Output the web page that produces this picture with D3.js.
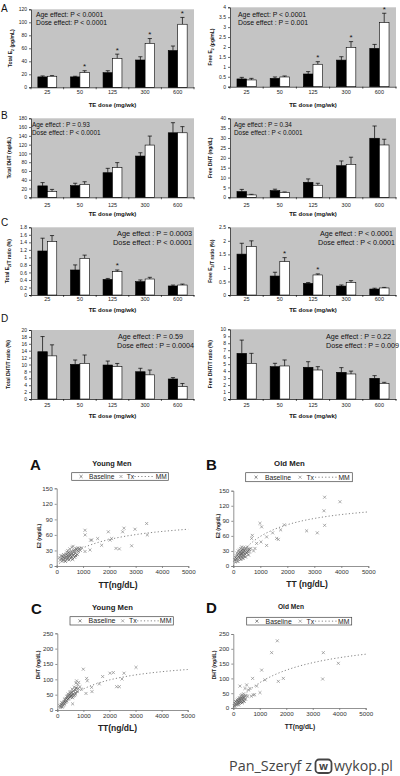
<!DOCTYPE html>
<html><head><meta charset="utf-8">
<script src="https://cdn.jsdelivr.net/npm/d3@7"></script>
<style>
html,body{margin:0;padding:0;background:#fff;}
svg{display:block;font-family:Arial,"Liberation Sans",sans-serif;}
</style></head><body>
<svg id="fig" width="400" height="776"></svg>
<script>
// ---------------- DATA ----------------
const doses = ["25","50","125","300","600"];

const totalE2Young = [16,16,22.5,42,56.5];
const totalE2YoungErr = [1.5,1,3,5,7];
const totalE2Old = [17,22.5,44.5,67.5,97];
const totalE2OldErr = [1,3,6.5,7.5,10.5];
const totalE2Star = [0,1,1,1,1];

const freeE2Young = [0.39,0.42,0.64,1.34,1.93];
const freeE2YoungErr = [0.08,0.07,0.12,0.17,0.2];
const freeE2Old = [0.34,0.49,1.13,1.98,3.23];
const freeE2OldErr = [0.08,0.05,0.13,0.29,0.47];
const freeE2Star = [0,0,1,1,1];

const totalDHTYoung = [26,26.5,56,94,147];
const totalDHTYoungErr = [7.5,5.5,10,7.5,23];
const totalDHTOld = [13,29.5,67.5,119,147];
const totalDHTOldErr = [5,6,11.5,20.5,14];
const totalDHTStar = [0,0,0,0,0];

const freeDHTYoung = [2.9,3.4,7.6,16,29.9];
const freeDHTYoungErr = [1.1,0.7,1.7,2.4,6.2];
const freeDHTOld = [1.2,2.4,6.1,16.7,26.5];
const freeDHTOldErr = [0.3,0.3,1,3.6,2.9];
const freeDHTStar = [0,0,0,0,0];

const totalE2TYoung = [1.17,0.665,0.415,0.355,0.24];
const totalE2TYoungErr = [0.34,0.135,0.025,0.045,0.025];
const totalE2TOld = [1.42,0.975,0.62,0.425,0.265];
const totalE2TOldErr = [0.16,0.085,0.045,0.045,0.025];
const totalE2TStar = [0,0,1,0,0];

const freeE2TYoung = [1.51,0.70,0.43,0.33,0.22];
const freeE2TYoungErr = [0.4,0.14,0.03,0.04,0.03];
const freeE2TOld = [1.79,1.23,0.74,0.46,0.26];
const freeE2TOldErr = [0.21,0.15,0.04,0.07,0.02];
const freeE2TStar = [0,1,1,0,0];

const totalDHTTYoung = [13.7,10.05,9.85,7.9,5.8];
const totalDHTTYoungErr = [4.4,1.25,1.15,1.0,0.4];
const totalDHTTOld = [12.5,10.3,9.4,7.0,3.6];
const totalDHTTOldErr = [3.2,2.45,0.9,1.4,0.9];
const totalDHTTStar = [0,0,0,0,0];

const freeDHTTYoung = [6.55,4.64,4.55,3.83,2.97];
const freeDHTTYoungErr = [1.9,0.48,0.8,0.67,0.38];
const freeDHTTOld = [5.12,4.74,4.16,3.59,2.25];
const freeDHTTOldErr = [1.43,0.86,0.48,0.41,0.14];
const freeDHTTStar = [0,0,0,0,0];

// scatter data [TT, hormone]
const youngE2Baseline = [[180,14],[210,19],[240,11],[260,17],[290,21],[310,15],[330,9],[350,18],[370,23],[390,13],[410,20],[430,16],[450,26],[470,12],[490,19],[510,22],[530,15],[550,28],[570,18],[590,24],[610,13],[630,21],[650,30],[680,17],[700,25],[720,20],[750,32],[780,22],[820,28],[870,34]];
const youngE2Tx = [[100,16],[130,11],[160,20],[200,9],[230,14],[260,22],[300,12],[340,17],[380,27],[420,30],[460,21],[500,33],[540,24],[580,36],[620,38],[660,27],[700,31],[740,34],[800,35],[860,33],[900,30],[950,35],[1076,28],[1080,60],[1076,69],[1266,31],[1291,50],[1330,50],[1557,53],[1709,40],[1962,66],[2025,50],[2089,53],[2253,34],[2380,33],[2506,66],[2557,73],[2848,39],[2975,71],[3418,82],[3443,60]];
const oldE2Baseline = [[60,12],[90,17],[120,14],[150,22],[170,9],[190,19],[210,25],[230,16],[250,28],[260,21],[280,13],[290,24],[300,30],[310,18],[320,26],[340,22],[350,33],[360,15],[380,27],[390,20],[410,31],[430,24],[450,18],[470,35],[500,26],[530,29],[560,22],[600,33]];
const oldE2Tx = [[80,8],[110,20],[140,26],[180,30],[200,13],[220,32],[240,20],[270,35],[290,27],[310,38],[330,19],[360,30],[380,37],[400,23],[420,28],[450,35],[480,30],[520,38],[560,33],[600,28],[650,35],[679,55],[704,61],[750,30],[802,35],[864,45],[988,85],[1025,48],[1049,78],[1235,41],[1235,58],[1457,66],[1605,55],[1667,53],[1753,72],[1889,82],[2716,70],[3111,66],[3358,110],[3383,137],[3383,81],[3951,128]];
const youngDHTBaseline = [[120,12],[150,18],[180,10],[200,22],[230,16],[260,28],[280,20],[300,33],[320,25],[340,38],[360,30],[380,42],[400,35],[420,46],[440,38],[460,50],[480,42],[500,55],[520,45],[540,48],[560,58],[580,40],[600,52],[620,62],[650,47],[680,66],[700,55],[720,72],[760,60],[800,70]];
const youngDHTTx = [[90,15],[130,8],[170,25],[210,12],[250,20],[290,36],[330,28],[370,45],[410,52],[450,45],[490,60],[530,53],[570,68],[588,20],[610,45],[650,75],[690,50],[716,88],[740,95],[780,82],[820,90],[870,76],[930,68],[997,133],[1100,54],[1125,103],[1151,95],[1317,74],[1330,60],[1611,85],[1739,109],[2020,120],[2148,122],[2276,76],[2378,76],[2481,101],[2558,120],[3018,139]];
const oldDHTBaseline = [[40,8],[70,15],[90,22],[110,11],[130,18],[150,26],[170,13],[190,20],[210,28],[220,16],[240,24],[250,32],[270,19],[280,27],[300,35],[310,22],[320,30],[340,18],[350,38],[370,26],[390,33],[410,22],[430,40],[460,30]];
const oldDHTTx = [[60,5],[100,12],[140,20],[180,30],[200,10],[230,35],[252,74],[260,22],[290,42],[310,30],[330,45],[350,25],[370,40],[390,48],[420,35],[441,66],[480,42],[504,78],[540,40],[567,61],[630,66],[680,40],[730,100],[756,44],[800,45],[882,74],[1008,52],[1071,128],[1196,95],[1448,187],[1662,227],[1700,90],[1889,100],[3375,98],[3400,187],[3967,151]];

// MM curves
const mmTT = [0,250,500,750,1000,1500,2000,2500,3000,3500,4000,4500,5000];
const mmYoungE2 = [0,12.1,21.4,28.9,35.0,44.4,51.2,56.5,60.6,64.0,66.7,69.0,71.0];
const mmOldE2 = [0,21.8,37.6,49.5,58.9,72.6,82.2,89.3,94.7,99.0,102.5,105.3,107.8];
const mmYoungDHT = [0,24.5,42.8,57.1,68.5,85.7,98.0,107.2,114.4,120.1,124.8,128.7,132.0];
const mmOldDHT = [0,28.7,51.5,70.1,85.6,109.8,127.9,141.9,153.1,162.3,169.9,176.3,181.8];

const ttTicks = [0,1000,2000,3000,4000,5000];

// ---------------- DRAW ----------------
const svg = d3.select("#fig");
const GRAY = "#c4c4c4";
const FONT = 'Arial,"Liberation Sans",sans-serif';

function subText(sel, parts, fs){
  parts.forEach(p=>{
    if(p.sub){
      sel.append("tspan").attr("font-size",fs*0.72).attr("dy",fs*0.3).text(p.t);
      sel.append("tspan").attr("dy",-fs*0.3).text("");
    } else sel.append("tspan").text(p.t);
  });
}

function barPanel(o){
  const g = svg.append("g");
  const x = d3.scaleBand().domain(doses).range([o.x0,o.x1]);
  const y = d3.scaleLinear().domain([0,o.yMax]).range([o.yb,o.yt]);
  g.append("rect").attr("x",o.x0).attr("y",o.yt).attr("width",o.x1-o.x0)
    .attr("height",o.yb-o.yt).attr("fill",GRAY);
  const bw = x.bandwidth()*0.29;
  const cw = bw*0.22;
  doses.forEach((d,i)=>{
    const c = x(d)+x.bandwidth()/2;
    [[o.young,o.youngErr,"#000",c-bw],[o.old,o.oldErr,"#fff",c]].forEach(([v,e,fill,bx])=>{
      const top=y(v[i]), et=y(v[i]+e[i]), mx=bx+bw/2;
      g.append("line").attr("x1",mx).attr("x2",mx).attr("y1",top).attr("y2",et)
        .attr("stroke","#000").attr("stroke-width",0.7);
      g.append("line").attr("x1",mx-cw).attr("x2",mx+cw).attr("y1",et).attr("y2",et)
        .attr("stroke","#000").attr("stroke-width",0.7);
      g.append("rect").attr("x",bx).attr("y",top).attr("width",bw).attr("height",y(0)-top)
        .attr("fill",fill).attr("stroke","#000").attr("stroke-width",0.6);
    });
    if(o.stars[i]){
      g.append("text").attr("x",c+bw/2).attr("y",y(o.old[i]+o.oldErr[i])-1.5)
        .attr("text-anchor","middle").attr("font-size",8).attr("fill","#111").text("*");
    }
  });
  const ya = g.append("g").attr("transform",`translate(${o.x0},0)`)
    .call(d3.axisLeft(y).tickValues(d3.range(0,o.yMax+o.yStep/2,o.yStep))
      .tickSize(2).tickPadding(2).tickFormat(d=>+d.toFixed(2)));
  ya.attr("font-size",5).attr("font-family",FONT);
  ya.selectAll("path").attr("stroke","#000").attr("stroke-width",0.6);
  ya.selectAll("line").attr("stroke","#000").attr("stroke-width",0.6);
  ya.selectAll("text").attr("fill","#222");
  const xa = g.append("g").attr("transform",`translate(0,${o.yb})`)
    .call(d3.axisBottom(x).tickSize(0).tickPadding(o.xlabY-o.yb-2.2));
  xa.attr("font-size",5.5).attr("font-family",FONT);
  xa.select("path").attr("stroke","#000").attr("stroke-width",0.7);
  xa.selectAll("text").attr("fill","#222");
  doses.concat(["end"]).forEach((d,i)=>{
    const xx = i<doses.length ? x(d) : o.x1;
    g.append("line").attr("x1",xx).attr("x2",xx).attr("y1",o.yb).attr("y2",o.yb+2)
      .attr("stroke","#000").attr("stroke-width",0.6);
  });
  g.append("text").attr("x",(o.x0+o.x1)/2).attr("y",o.titleY).attr("text-anchor","middle")
    .attr("font-size",6).attr("font-weight","bold").attr("fill","#111").text("TE dose (mg/wk)");
  const yt = g.append("text").attr("transform",`translate(${o.labX},${(o.yt+o.yb)/2}) rotate(-90)`)
    .attr("text-anchor","middle").attr("font-size",5).attr("font-weight","bold").attr("fill","#111");
  subText(yt,o.ylab,5);
  o.ann.forEach((t,k)=>{
    g.append("text").attr("x",o.annX[k]).attr("y",o.annY+k*o.annDy).attr("font-size",o.annFs)
      .attr("fill","#111").text(t);
  });
  if(o.letter){
    g.append("text").attr("x",1).attr("y",o.letterY).attr("font-size",10).attr("fill","#111").text(o.letter);
  }
}

const L0=31, L1=194, R0=230, R1=396;
const barPanels = [
  {x0:L0,x1:L1,yt:9.3,yb:87.3,yMax:120,yStep:20,labX:12,ylab:[{t:"Total E"},{t:"2",sub:1},{t:" (pg/mL)"}],
   young:totalE2Young,youngErr:totalE2YoungErr,old:totalE2Old,oldErr:totalE2OldErr,stars:totalE2Star,
   ann:["Age effect: P < 0.0001","Dose effect: P < 0.0001"],annX:[36,36],annY:17,annDy:8,annFs:6.8,xlabY:92.7,titleY:107,letter:"A",letterY:12},
  {x0:R0,x1:R1,yt:7.3,yb:86.7,yMax:4,yStep:0.5,labX:212,ylab:[{t:"Free E"},{t:"2",sub:1},{t:" (pg/mL)"}],
   young:freeE2Young,youngErr:freeE2YoungErr,old:freeE2Old,oldErr:freeE2OldErr,stars:freeE2Star,
   ann:["Age effect: P < 0.0001","Dose effect : P = 0.001"],annX:[238,238],annY:17,annDy:8,annFs:6.9,xlabY:92.7,titleY:107},
  {x0:L0,x1:L1,yt:118.3,yb:197.3,yMax:180,yStep:20,labX:11,ylab:[{t:"Total DHT (ng/dL)"}],
   young:totalDHTYoung,youngErr:totalDHTYoungErr,old:totalDHTOld,oldErr:totalDHTOldErr,stars:totalDHTStar,
   ann:["Age effect : P = 0.93","Dose effect : P < 0.0001"],annX:[32,32],annY:126.5,annDy:8.7,annFs:6.4,xlabY:205,titleY:216,letter:"B",letterY:119},
  {x0:R0,x1:R1,yt:118.3,yb:197.3,yMax:40,yStep:5,labX:212,ylab:[{t:"Free DHT (ng/dL)"}],
   young:freeDHTYoung,youngErr:freeDHTYoungErr,old:freeDHTOld,oldErr:freeDHTOldErr,stars:freeDHTStar,
   ann:["Age effect : P = 0.34","Dose effect : P < 0.0001"],annX:[234,234],annY:126.5,annDy:8.7,annFs:6.4,xlabY:205,titleY:216},
  {x0:L0,x1:L1,yt:227.3,yb:295,yMax:1.8,yStep:0.2,labX:9,ylab:[{t:"Total E"},{t:"2",sub:1},{t:"/T ratio (%)"}],
   young:totalE2TYoung,youngErr:totalE2TYoungErr,old:totalE2TOld,oldErr:totalE2TOldErr,stars:totalE2TStar,
   ann:["Age effect : P = 0.0003","Dose effect : P < 0.0001"],annX:[117,113],annY:235.8,annDy:9,annFs:7.4,xlabY:299.3,titleY:312,letter:"C",letterY:226},
  {x0:R0,x1:R1,yt:227.3,yb:295,yMax:2.5,yStep:0.5,labX:212,ylab:[{t:"Free E"},{t:"2",sub:1},{t:"/T ratio (%)"}],
   young:freeE2TYoung,youngErr:freeE2TYoungErr,old:freeE2TOld,oldErr:freeE2TOldErr,stars:freeE2TStar,
   ann:["Age effect : P < 0.0001","Dose effect : P < 0.0001"],annX:[320,318],annY:235.8,annDy:9,annFs:7.2,xlabY:299.3,titleY:312},
  {x0:L0,x1:L1,yt:330,yb:399,yMax:20,yStep:2,labX:9.5,ylab:[{t:"Total DHT/T ratio (%)"}],
   young:totalDHTTYoung,youngErr:totalDHTTYoungErr,old:totalDHTTOld,oldErr:totalDHTTOldErr,stars:totalDHTTStar,
   ann:["Age effect : P = 0.59","Dose effect : P = 0.0004"],annX:[118,117],annY:339,annDy:9,annFs:7.2,xlabY:405,titleY:418,letter:"D",letterY:322},
  {x0:R0,x1:R1,yt:329.3,yb:399,yMax:10,yStep:1,labX:212,ylab:[{t:"Free DHT/T ratio (%)"}],
   young:freeDHTTYoung,youngErr:freeDHTTYoungErr,old:freeDHTTOld,oldErr:freeDHTTOldErr,stars:freeDHTTStar,
   ann:["Age effect : P = 0.22","Dose effect : P = 0.009"],annX:[326,326],annY:339,annDy:9,annFs:7.2,xlabY:405,titleY:418}
];
barPanels.forEach(barPanel);

// ---------- scatter panels ----------
const symX = d3.symbol().type(d3.symbolTimes).size(7);
const symT = d3.symbol().type(d3.symbolTimes).size(7);

function scatterPanel(o){
  const g = svg.append("g");
  const x = d3.scaleLinear().domain([0,5000]).range([o.x0,o.x1]);
  const y = d3.scaleLinear().domain([0,o.yMax]).range([o.yb,o.yt]);
  const ya = g.append("g").attr("transform",`translate(${o.x0},0)`)
    .call(d3.axisLeft(y).tickValues(d3.range(0,o.yMax+1,o.yStep)).tickSize(2).tickPadding(2).tickFormat(d3.format("d")));
  const xa = g.append("g").attr("transform",`translate(0,${o.yb})`)
    .call(d3.axisBottom(x).tickValues(ttTicks).tickSize(2).tickPadding(2).tickFormat(d3.format("d")));
  [ya,xa].forEach(a=>{
    a.attr("font-size",6.2).attr("font-family",FONT);
    a.selectAll("path,line").attr("stroke","#777").attr("stroke-width",0.8);
    a.selectAll("text").attr("fill","#333");
  });
  const line = d3.line().x((d,i)=>x(o.mmX[i])).y(d=>y(d)).curve(d3.curveMonotoneX);
  g.append("path").attr("d",line(o.mmY)).attr("fill","none").attr("stroke","#777")
    .attr("stroke-width",0.9).attr("stroke-dasharray","1.2 2.2");
  g.selectAll(null).data(o.base).join("path")
    .attr("transform",d=>`translate(${x(d[0])},${y(d[1])})`).attr("d",symX)
    .attr("fill","none").attr("stroke","#555").attr("stroke-width",0.7);
  g.selectAll(null).data(o.tx).join("path")
    .attr("transform",d=>`translate(${x(d[0])},${y(d[1])})`).attr("d",symT)
    .attr("fill","none").attr("stroke","#888").attr("stroke-width",0.7);
  g.append("text").attr("x",o.titleX).attr("y",o.titleY).attr("text-anchor","middle")
    .attr("font-size",o.titleFs).attr("font-weight","bold").attr("fill","#222").text(o.title);
  g.append("text").attr("x",o.letterX).attr("y",o.letterY).attr("font-size",15)
    .attr("font-weight","bold").attr("fill","#111").text(o.letter);
  g.append("text").attr("transform",`translate(${o.ylabX},${o.ylabY}) rotate(-90)`)
    .attr("text-anchor","middle").attr("font-size",5).attr("font-weight","bold").attr("fill","#222").text(o.ylab);
  g.append("text").attr("x",o.xtX).attr("y",o.xtY).attr("text-anchor","middle")
    .attr("font-size",o.xtFs).attr("font-weight","bold").attr("fill","#222").text(o.xtitle);
  const [lx0,ly0,lx1,ly1] = o.leg, lw = lx1-lx0, lcy=(ly0+ly1)/2;
  g.append("rect").attr("x",lx0).attr("y",ly0).attr("width",lw).attr("height",ly1-ly0)
    .attr("fill","#fff").attr("stroke","#444").attr("stroke-width",0.7);
  g.append("path").attr("transform",`translate(${lx0+lw*0.097},${lcy})`).attr("d",symX)
    .attr("fill","none").attr("stroke","#555").attr("stroke-width",0.7);
  g.append("path").attr("transform",`translate(${lx0+lw*0.51},${lcy})`).attr("d",symT)
    .attr("fill","none").attr("stroke","#888").attr("stroke-width",0.7);
  const lfs = o.legFs;
  g.append("text").attr("x",lx0+lw*0.18).attr("y",lcy+lfs*0.35).attr("font-size",lfs).attr("fill","#222").text("Baseline");
  g.append("text").attr("x",lx0+lw*0.57).attr("y",lcy+lfs*0.35).attr("font-size",lfs).attr("fill","#222").text("Tx");
  g.append("line").attr("x1",lx0+lw*0.65).attr("x2",lx0+lw*0.86).attr("y1",lcy).attr("y2",lcy)
    .attr("stroke","#777").attr("stroke-width",0.9).attr("stroke-dasharray","1.2 2.2");
  g.append("text").attr("x",lx0+lw*0.87).attr("y",lcy+lfs*0.35).attr("font-size",lfs).attr("fill","#222").text("MM");
}

const scatterPanels = [
  {x0:56.7,x1:188.3,yb:566,yt:488.3,yMax:150,yStep:30,base:youngE2Baseline,tx:youngE2Tx,mmX:mmTT,mmY:mmYoungE2,
   title:"Young Men",titleX:112,titleY:466,titleFs:7.4,letter:"A",letterX:30,letterY:470,
   ylab:"E2 (ng/dL)",ylabX:41,ylabY:536,xtitle:"TT(ng/dL)",xtX:118,xtY:588,xtFs:8.5,leg:[71.7,472.7,168.3,480.3],legFs:6.6},
  {x0:233.3,x1:368.3,yb:566,yt:490.7,yMax:150,yStep:30,base:oldE2Baseline,tx:oldE2Tx,mmX:mmTT,mmY:mmOldE2,
   title:"Old Men",titleX:289.5,titleY:466,titleFs:7.8,letter:"B",letterX:206,letterY:470,
   ylab:"E2 (ng/dL)",ylabX:220,ylabY:526,xtitle:"TT (ng/dL)",xtX:307,xtY:587,xtFs:8.5,leg:[245.7,472.7,352.3,481.7],legFs:6.8},
  {x0:57.3,x1:187.7,yb:710,yt:633.3,yMax:250,yStep:50,base:youngDHTBaseline,tx:youngDHTTx,mmX:mmTT,mmY:mmYoungDHT,
   title:"Young Men",titleX:112.5,titleY:610,titleFs:7.7,letter:"C",letterX:31,letterY:614,
   ylab:"DHT (ng/dL)",ylabX:40,ylabY:665,xtitle:"TT(ng/dL)",xtX:117.5,xtY:731,xtFs:8.5,leg:[70,616.7,173.3,625],legFs:7},
  {x0:233.3,x1:365.7,yb:708,yt:634,yMax:250,yStep:50,base:oldDHTBaseline,tx:oldDHTTx,mmX:mmTT,mmY:mmOldDHT,
   title:"Old Men",titleX:291,titleY:609,titleFs:6.6,letter:"D",letterX:206,letterY:613,
   ylab:"DHT (ng/dL)",ylabX:216,ylabY:665,xtitle:"TT(ng/dL)",xtX:300,xtY:728.5,xtFs:6.6,leg:[246.7,617.3,351.7,625],legFs:6.8}
];
scatterPanels.forEach(scatterPanel);

// watermark (sized to fit measured spans)
const wm = svg.append("g").attr("font-family",'"Open Sans","Noto Sans",sans-serif').attr("fill","#444");
function fitText(str, x, target){
  const t = wm.append("text").attr("x",x).attr("y",771).attr("font-size",15).text(str);
  const w = t.node().getComputedTextLength();
  t.attr("font-size",15*target/w);
  return t;
}
fitText("Pan_Szeryf z",229,83);
wm.append("rect").attr("x",315.5).attr("y",759.5).attr("width",16).attr("height",13.5).attr("rx",3.5)
  .attr("fill","none").attr("stroke","#444").attr("stroke-width",1.8);
wm.append("text").attr("x",323.5).attr("y",769.5).attr("text-anchor","middle").attr("font-size",10.5).attr("font-weight","bold").text("w");
fitText("wykop.pl",334,59);
</script>
</body></html>
